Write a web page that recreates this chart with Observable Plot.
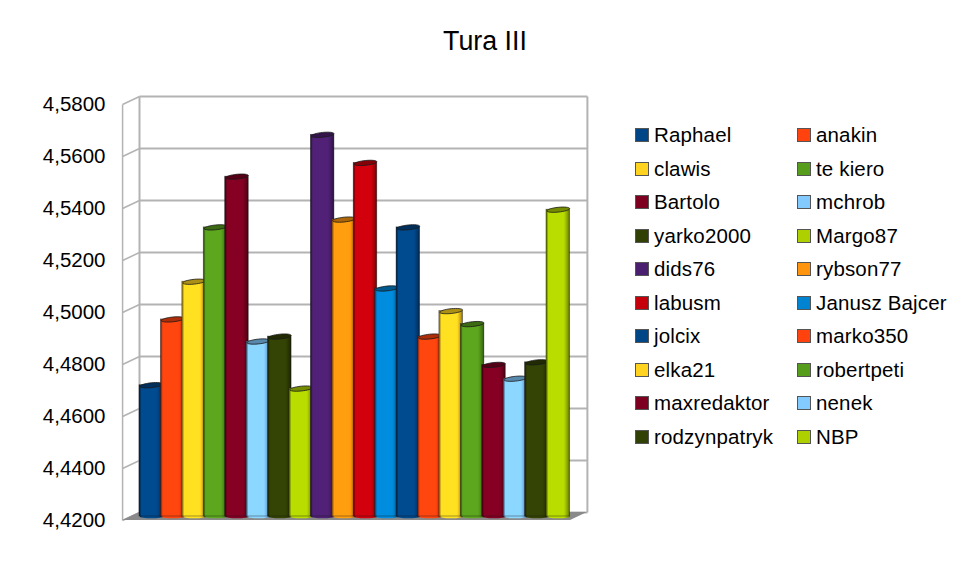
<!DOCTYPE html>
<html>
<head>
<meta charset="utf-8">
<script src="https://cdn.jsdelivr.net/npm/d3@7"></script>
<script src="https://cdn.jsdelivr.net/npm/@observablehq/plot@0.6"></script>
<style>
  html, body { margin: 0; padding: 0; background: #fff; }
  body { position: relative; width: 970px; height: 568px; overflow: hidden; font-family: "Liberation Sans", sans-serif; color: #000; }
  #chart { position: absolute; left: 0; top: 0; }
  #title { position: absolute; left: 0; width: 970px; top: 25px; text-align: center; font-size: 26.8px; line-height: 32px; }
  .lg { position: absolute; font-size: 20.5px; line-height: 24px; white-space: nowrap; letter-spacing: 0.15px; }
  .sw { position: absolute; width: 12px; height: 12px; border: 1px solid #555; box-sizing: content-box; }
</style>
</head>
<body>
<div id="chart"></div>
<div id="title">Tura III</div>
<script>
const names = ["Raphael","anakin","clawis","te kiero","Bartolo","mchrob","yarko2000","Margo87","dids76","rybson77","labusm","Janusz Bajcer","jolcix","marko350","elka21","robertpeti","maxredaktor","nenek","rodzynpatryk","NBP"];
const values = [4.4705,4.4958,4.5103,4.5312,4.5507,4.4873,4.4892,4.4692,4.5668,4.5342,4.5560,4.5077,4.5312,4.4892,4.4990,4.4940,4.4783,4.4730,4.4793,4.5380];
const palette = ["#004586","#ff420e","#ffd320","#579d1c","#7e0021","#83caff","#314004","#aecf00","#4b1f6f","#ff950e","#c5000b","#0084d1"];
const yTicks = [4.42,4.44,4.46,4.48,4.50,4.52,4.54,4.56,4.58];
const yBase = 4.42, yTop = 4.58, n = names.length;
const depthX = 0.79, depthY = 0.00154, barOver = 0.1;
const wallEnd = n + barOver + 0.02;
const wall = "#b3b3b3";

const rows = names.map((name, i) => ({name, i, value: values[i], color: palette[i % palette.length], grad: `url(#cyl${i})`}));

function ellipse(rx, ry, tilt) {
  const k = 0.5523;
  const P = (x, y) => [x, y - tilt * x];
  return {draw(c) {
    c.moveTo(...P(-rx, 0));
    c.bezierCurveTo(...P(-rx, -ry * k), ...P(-rx * k, -ry), ...P(0, -ry));
    c.bezierCurveTo(...P(rx * k, -ry), ...P(rx, -ry * k), ...P(rx, 0));
    c.bezierCurveTo(...P(rx, ry * k), ...P(rx * k, ry), ...P(0, ry));
    c.bezierCurveTo(...P(-rx * k, ry), ...P(-rx, ry * k), ...P(-rx, 0));
    c.closePath();
  }};
}

function gradients() {
  const defs = d3.create("svg:defs");
  rows.forEach(r => {
    const base = d3.color(r.color);
    const g = defs.append("linearGradient").attr("id", `cyl${r.i}`).attr("x1", 0).attr("x2", 1).attr("y1", 0).attr("y2", 0);
    [[0, base.darker(2)], [0.05, base.darker(1)], [0.1, base.brighter(0.18)], [0.74, base.brighter(0.18)], [0.8, base], [0.94, base.darker(0.9)], [1, base.darker(2.4)]]
      .forEach(([o, c]) => g.append("stop").attr("offset", o).attr("stop-color", c.formatHex()));
  });
  return defs.node();
}

const floorPts = [
  {x: -depthX, y1: yBase - depthY, y2: yBase - depthY},
  {x: 0, y1: yBase - depthY, y2: yBase + depthY},
  {x: wallEnd, y1: yBase - depthY, y2: yBase + depthY},
  {x: wallEnd + depthX, y1: yBase + depthY, y2: yBase + depthY}
];

const plot = Plot.plot({
  width: 970, height: 568,
  marginLeft: 139, marginRight: 400, marginTop: 100, marginBottom: 52,
  x: {domain: [0, n], range: [139, 567.4], axis: null},
  y: {domain: [yBase, yTop], range: [516, 100], axis: null},
  color: {type: "identity"},
  style: {fontFamily: "'Liberation Sans', sans-serif", background: "transparent", overflow: "visible"},
  marks: [
    gradients,
    // back wall grid lines
    Plot.link(yTicks, {x1: 0, x2: wallEnd + depthX, y1: v => v + depthY, y2: v => v + depthY, stroke: wall, strokeWidth: 2}),
    // left wall slants and front edge
    Plot.link(yTicks, {x1: -depthX, x2: 0, y1: v => v - depthY, y2: v => v + depthY, stroke: wall, strokeWidth: 1.5}),
    Plot.link([0], {x1: -depthX, x2: -depthX, y1: yBase - depthY, y2: yTop - depthY, stroke: wall, strokeWidth: 1.5}),
    Plot.link([0], {x1: 0, x2: 0, y1: yBase + depthY, y2: yTop + depthY, stroke: wall, strokeWidth: 2}),
    Plot.link([0], {x1: wallEnd + depthX, x2: wallEnd + depthX, y1: yBase + depthY, y2: yTop + depthY, stroke: wall, strokeWidth: 2}),
    // floor
    Plot.area(floorPts, {x1: "x", y1: "y1", y2: "y2", fill: "#8a8a8a", curve: "linear"}),
    // cylinders, each later one overlapping the one before: base, body, top
    ...rows.flatMap(r => [
      Plot.dot([r], {x: d => d.i + 0.55, y: () => yBase, symbol: ellipse(11.7, 1.8, 0), r: 5, fill: "grad", stroke: "none"}),
      Plot.rectY([r], {x1: "i", x2: d => d.i + 1 + barOver, y1: () => yBase, y2: "value", fill: "grad", stroke: "#1a1a1a", strokeOpacity: 0.55, strokeWidth: 0.7}),
      Plot.dot([r], {x: d => d.i + 0.55, y: "value", symbol: ellipse(11.4, 2.4, 0.1), r: 5, fill: d => d3.color(d.color).darker(1.1).formatHex(), stroke: "#1a1a1a", strokeWidth: 0.8})
    ]),
    // value axis, on the front plane of the left wall
    Plot.axisY({ticks: yTicks, tickSize: 0, tickPadding: 34, dy: 4, fontSize: 20.5, fill: "#000",
      tickFormat: v => d3.format(".4f")(v).replace(".", ",")})
  ]
});
document.getElementById("chart").append(plot);

// legend: two columns, ten rows
rows.forEach(r => {
  const col = r.i % 2, row = Math.floor(r.i / 2);
  const cy = 135 + row * 33.55;
  const sw = document.createElement("div");
  sw.className = "sw";
  sw.style.left = (col ? 797 : 635) + "px";
  sw.style.top = (cy - 7) + "px";
  sw.style.background = r.color;
  document.body.append(sw);
  const t = document.createElement("div");
  t.className = "lg";
  t.textContent = r.name;
  t.style.left = (col ? 816 : 654) + "px";
  t.style.top = (cy - 12) + "px";
  document.body.append(t);
});
</script>
</body>
</html>
